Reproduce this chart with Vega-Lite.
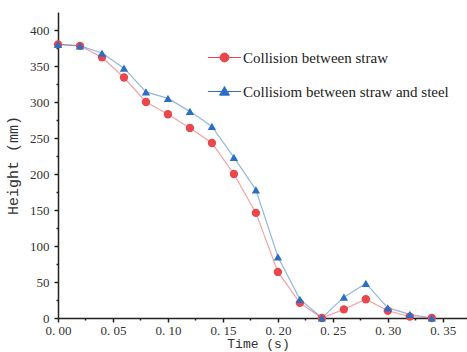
{
  "$schema": "https://vega.github.io/schema/vega-lite/v6.json",
  "width": 409,
  "height": 306,
  "autosize": {"type": "none"},
  "padding": {"left": 58, "top": 12, "right": 0, "bottom": 34},
  "background": "white",
  "config": {"view": {"stroke": null}},
  "data": {"values": [
    {"t": 0.00, "h": 380, "s": "Collision between straw"},
    {"t": 0.02, "h": 378, "s": "Collision between straw"},
    {"t": 0.04, "h": 362, "s": "Collision between straw"},
    {"t": 0.06, "h": 334, "s": "Collision between straw"},
    {"t": 0.08, "h": 300, "s": "Collision between straw"},
    {"t": 0.10, "h": 283, "s": "Collision between straw"},
    {"t": 0.12, "h": 264, "s": "Collision between straw"},
    {"t": 0.14, "h": 243, "s": "Collision between straw"},
    {"t": 0.16, "h": 200, "s": "Collision between straw"},
    {"t": 0.18, "h": 146, "s": "Collision between straw"},
    {"t": 0.20, "h": 64, "s": "Collision between straw"},
    {"t": 0.22, "h": 21, "s": "Collision between straw"},
    {"t": 0.24, "h": 0, "s": "Collision between straw"},
    {"t": 0.26, "h": 12, "s": "Collision between straw"},
    {"t": 0.28, "h": 26, "s": "Collision between straw"},
    {"t": 0.30, "h": 10, "s": "Collision between straw"},
    {"t": 0.32, "h": 2, "s": "Collision between straw"},
    {"t": 0.34, "h": 0, "s": "Collision between straw"},
    {"t": 0.00, "h": 380, "s": "Collisiom between straw and steel"},
    {"t": 0.02, "h": 378, "s": "Collisiom between straw and steel"},
    {"t": 0.04, "h": 368, "s": "Collisiom between straw and steel"},
    {"t": 0.06, "h": 347, "s": "Collisiom between straw and steel"},
    {"t": 0.08, "h": 314, "s": "Collisiom between straw and steel"},
    {"t": 0.10, "h": 305, "s": "Collisiom between straw and steel"},
    {"t": 0.12, "h": 287, "s": "Collisiom between straw and steel"},
    {"t": 0.14, "h": 266, "s": "Collisiom between straw and steel"},
    {"t": 0.16, "h": 223, "s": "Collisiom between straw and steel"},
    {"t": 0.18, "h": 178, "s": "Collisiom between straw and steel"},
    {"t": 0.20, "h": 85, "s": "Collisiom between straw and steel"},
    {"t": 0.22, "h": 26, "s": "Collisiom between straw and steel"},
    {"t": 0.24, "h": 0, "s": "Collisiom between straw and steel"},
    {"t": 0.26, "h": 29, "s": "Collisiom between straw and steel"},
    {"t": 0.28, "h": 48, "s": "Collisiom between straw and steel"},
    {"t": 0.30, "h": 14, "s": "Collisiom between straw and steel"},
    {"t": 0.32, "h": 5, "s": "Collisiom between straw and steel"},
    {"t": 0.34, "h": 0, "s": "Collisiom between straw and steel"}
  ]},
  "encoding": {
    "x": {"field": "t", "type": "quantitative",
      "scale": {"domain": [0, 0.372], "nice": false, "zero": false},
      "axis": {
        "title": "Time (s)", "titleFont": "Liberation Mono", "titleFontSize": 13, "titleFontWeight": "normal", "titleColor": "#333",
        "titleX": 200, "titlePadding": 0,
        "values": [0, 0.025, 0.05, 0.075, 0.1, 0.125, 0.15, 0.175, 0.2, 0.225, 0.25, 0.275, 0.3, 0.325, 0.35],
        "labelExpr": "(round(datum.value*1000) % 50 == 0) ? replace(format(datum.value, '.2f'), '.', '. ') : ''",
        "labelFont": "Liberation Serif", "labelFontSize": 13, "labelColor": "#333", "labelPadding": 2,
        "labelFlush": false, "labelOverlap": false,
        "domainColor": "#222", "domainWidth": 1.5, "tickColor": "#222", "tickWidth": 1.5,
        "tickSize": {"condition": {"test": "round(datum.value*1000) % 50 == 0", "value": 4}, "value": 2},
        "grid": false
      }},
    "y": {"field": "h", "type": "quantitative",
      "scale": {"domain": [0, 425], "nice": false},
      "axis": {
        "title": "Height (mm)", "titleFont": "Liberation Mono", "titleFontSize": 15, "titleFontWeight": "normal", "titleColor": "#333",
        "titlePadding": 9,
        "values": [0, 25, 50, 75, 100, 125, 150, 175, 200, 225, 250, 275, 300, 325, 350, 375, 400],
        "labelExpr": "(datum.value % 50 == 0) ? format(datum.value, 'd') : ''",
        "labelFont": "Liberation Serif", "labelFontSize": 13, "labelColor": "#333", "labelPadding": 5,
        "labelFlush": false, "labelOverlap": false,
        "domainColor": "#222", "domainWidth": 1.5, "tickColor": "#222", "tickWidth": 1.5,
        "tickSize": {"condition": {"test": "datum.value % 50 == 0", "value": 4}, "value": 2},
        "grid": false
      }},
    "color": {"field": "s", "type": "nominal",
      "scale": {"domain": ["Collision between straw", "Collisiom between straw and steel"], "range": ["#e8474c", "#2a6fc4"]},
      "legend": {
        "title": null, "orient": "none", "legendX": 149, "legendY": 28,
        "symbolSize": 1100, "symbolStrokeWidth": 1, "symbolOpacity": 1, "labelOffset": 1, "rowPadding": 8, "labelLimit": 0,
        "labelFont": "Liberation Serif", "labelFontSize": 15, "labelColor": "#222",
        "encode": {"symbols": {"update": {
          "shape": {"signal": "datum.value === 'Collision between straw' ? 'M-1,0L1,0M-0.27,0A0.27,0.27 0 1,1 0.27,0A0.27,0.27 0 1,1 -0.27,0Z' : 'M-1,0L1,0M0,-0.3L0.3,0.22L-0.3,0.22Z'"},
          "fill": {"signal": "datum.value === 'Collision between straw' ? '#e8474c' : '#2a6fc4'"},
          "stroke": {"signal": "datum.value === 'Collision between straw' ? '#f0a0a3' : '#8fbde8'"},
          "strokeWidth": {"value": 1},
          "opacity": {"value": 1}
        }}}
      }}
  },
  "layer": [
    {
      "mark": {"type": "line", "strokeWidth": 1.2, "opacity": 0.5}
    },
    {
      "mark": {"type": "point", "filled": true, "opacity": 1, "size": 70},
      "encoding": {
        "shape": {"condition": {"test": "datum.s === 'Collision between straw'", "value": "circle"}, "value": "triangle-up"}
      }
    }
  ]
}
